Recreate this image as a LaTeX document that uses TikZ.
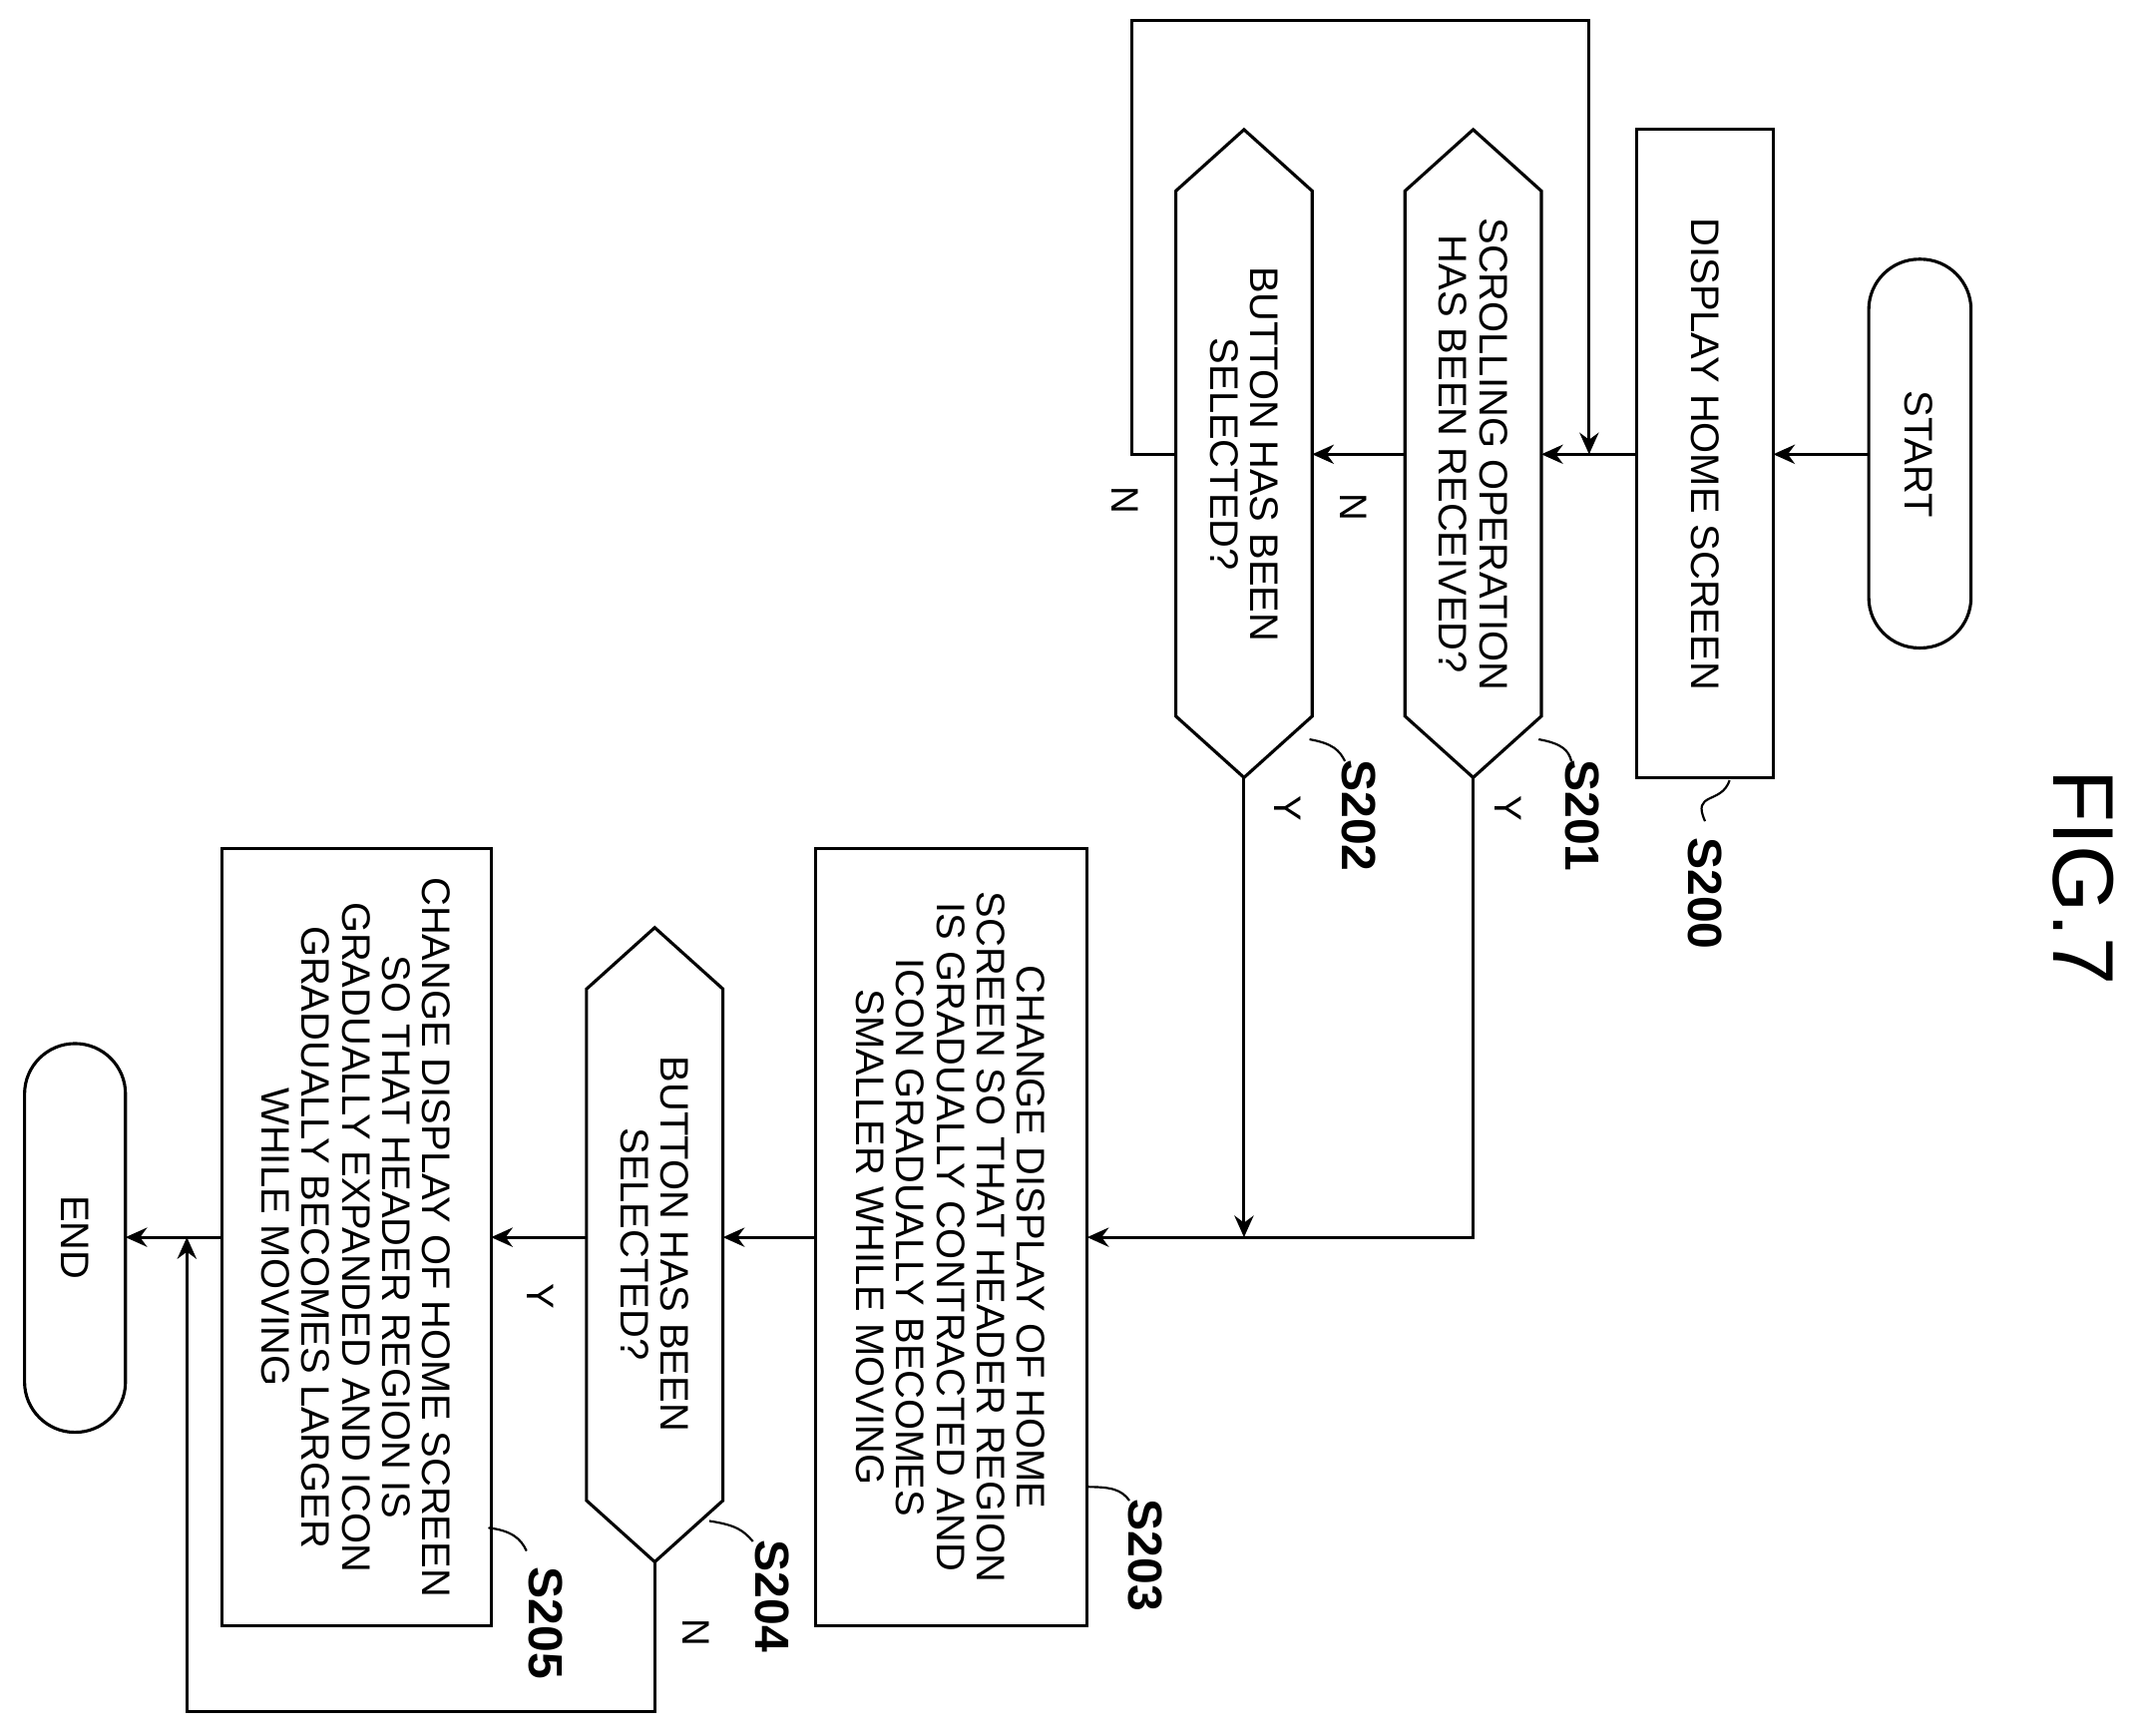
\documentclass[tikz,border=0pt]{standalone}
\usepackage{fontspec}
\setmainfont{Liberation Sans}
\usetikzlibrary{arrows.meta}
\begin{document}
\begin{tikzpicture}[x=0.02cm,y=-0.02cm,line width=1.3pt,
  txt/.style={rotate=-90,align=center,font=\fontsize{16.6}{16.8}\selectfont,inner sep=0pt},
  lbl/.style={rotate=-90,font=\bfseries\fontsize{20}{20}\selectfont,inner sep=0pt},
  yn/.style={rotate=-90,font=\fontsize{16}{16}\selectfont,inner sep=0pt},
  arr/.style={-{Stealth[length=9pt,width=8pt]}}]
\useasboundingbox (0,0) rectangle (1563,1272);
\node[rotate=-90,font=\fontsize{36}{36}\selectfont,inner sep=0pt] (fig) at (1527,643) {FIG.7};
% start
\draw[rounded corners=0.74cm] (1370,190) rectangle (1445,475);
\node[txt] (start) at (1407,333) {START};
\coordinate (startL) at (1370,333);
% S200
\draw (1200,95) rectangle (1300,570);
\node[txt] (s200) at (1250,333) {DISPLAY HOME SCREEN};
% S201
\draw (1080,95) -- (1130,140) -- (1130,525) -- (1080,570) -- (1030,525) -- (1030,140) -- cycle;
\node[txt] (s201) at (1080,333) {SCROLLING OPERATION\\HAS BEEN RECEIVED?};
% S202
\draw (912,95) -- (962,140) -- (962,525) -- (912,570) -- (862,525) -- (862,140) -- cycle;
\node[txt] (s202) at (912,333) {BUTTON HAS BEEN\\SELECTED?};
% S203
\draw (598,622) rectangle (797,1192);
\node[txt] (s203) at (697,907) {CHANGE DISPLAY OF HOME\\SCREEN SO THAT HEADER REGION\\IS GRADUALLY CONTRACTED AND\\ICON GRADUALLY BECOMES\\SMALLER WHILE MOVING};
% S204
\draw (480,680) -- (530,725) -- (530,1100) -- (480,1145) -- (430,1100) -- (430,725) -- cycle;
\node[txt] (s204) at (480,912) {BUTTON HAS BEEN\\SELECTED?};
% S205
\draw (163,622) rectangle (360,1192);
\node[txt] (s205) at (261,907) {CHANGE DISPLAY OF HOME SCREEN\\SO THAT HEADER REGION IS\\GRADUALLY EXPANDED AND ICON\\GRADUALLY BECOMES LARGER\\WHILE MOVING};
% END
\draw[rounded corners=0.74cm] (18,765) rectangle (92,1050);
\node[txt] (end) at (55,907) {END};
% coordinates
\coordinate (a0) at (1300,333);
\coordinate (b0) at (1200,333);
\coordinate (b1) at (1130,333);
\coordinate (c0) at (1030,333);
\coordinate (c1) at (962,333);
\coordinate (d0) at (862,333);
\coordinate (d1) at (830,333);
\coordinate (lt) at (830,15);
\coordinate (rt) at (1165,15);
\coordinate (mj) at (1165,333);
\coordinate (y1) at (1080,570);
\coordinate (y1b) at (1080,907);
\coordinate (y2) at (912,570);
\coordinate (y2b) at (912,907);
\coordinate (e0) at (797,907);
\coordinate (e1) at (598,907);
\coordinate (f0) at (530,907);
\coordinate (f1) at (430,907);
\coordinate (g0) at (360,907);
\coordinate (g1) at (163,907);
\coordinate (h0) at (92,907);
\coordinate (n4) at (480,1145);
\coordinate (n4b) at (480,1255);
\coordinate (n4c) at (137,1255);
\coordinate (n4d) at (137,907);
% connectors
\draw[arr] (startL) -- (a0);
\draw[arr] (b0) -- (b1);
\draw[arr] (c0) -- (c1);
\draw[arr] (d0) -- (d1) -- (lt) -- (rt) -- (mj);
\draw[arr] (y1) -- (y1b) -- (e0);
\draw[arr] (y2) -- (y2b);
\draw[arr] (e1) -- (f0);
\draw[arr] (f1) -- (g0);
\draw[arr] (g1) -- (h0);
\draw[arr] (n4) -- (n4b) -- (n4c) -- (n4d);
% Y/N labels
\node[yn] (n1) at (992,372) {N};
\node[yn] (n2) at (825,367) {N};
\node[yn] (ya) at (1106,593) {Y};
\node[yn] (yb) at (944,593) {Y};
\node[yn] (yc) at (396,950) {Y};
\node[yn] (nc) at (510,1197) {N};
% step labels
\node[lbl] (l200) at (1250,655) {S200};
\draw[line width=0.9pt] (1268,572) .. controls (1262,590) and (1240,580) .. (1250,602);
\node[lbl] (l201) at (1160,598) {S201};
\draw[line width=0.9pt] (1128,542) .. controls (1145,545) and (1150,550) .. (1152,558);
\node[lbl] (l202) at (996,598) {S202};
\draw[line width=0.9pt] (960,542) .. controls (977,545) and (982,550) .. (986,558);
\node[lbl] (l203) at (840,1140) {S203};
\draw[line width=0.9pt] (797,1090) .. controls (815,1090) and (822,1092) .. (828,1100);
\node[lbl] (l204) at (566,1170) {S204};
\draw[line width=0.9pt] (520,1115) .. controls (540,1118) and (545,1122) .. (552,1130);
\node[lbl] (l205) at (400,1190) {S205};
\draw[line width=0.9pt] (358,1120) .. controls (375,1122) and (382,1128) .. (386,1137);
\end{tikzpicture}
\end{document}
